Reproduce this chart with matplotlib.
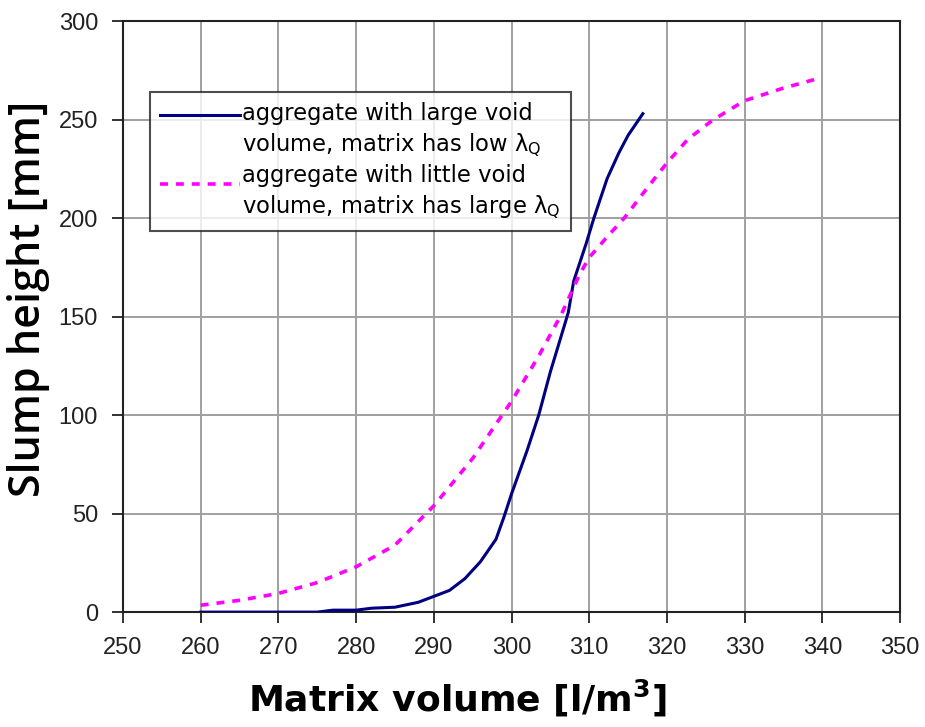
import matplotlib
matplotlib.use("Agg")
import matplotlib.pyplot as plt
from matplotlib.legend_handler import HandlerLine2D
import numpy as np

# ---- data ----
blue_x = [260, 265, 270, 275, 277, 280, 282, 285, 288, 290, 292, 294, 296, 298, 299, 300,
          302, 303.5, 305, 306, 307.3, 308, 309.6, 310.6, 312.3, 313.8, 315, 316.9]
blue_y = [0, 0, 0, 0, 1, 1, 2, 2.5, 5, 8, 11, 17, 25.6, 37, 48, 60,
          82, 100, 122, 135, 152, 168, 187, 200, 220, 233, 242, 253]

mag_x = [260, 265, 270, 275, 280, 285, 290, 295, 296.2, 300, 303.5, 306.4, 308.7, 310,
         312.2, 314.5, 317.6, 320, 322.7, 325.8, 330, 335, 339.6]
mag_y = [3.5, 6, 9.5, 15, 23, 34, 54, 78, 85, 107, 130, 151, 171, 180,
         190, 200, 216, 228, 240, 249.5, 259.6, 266, 271]

xticks = list(range(250, 351, 10))
yticks = list(range(0, 301, 50))

label_blue = "aggregate with large void\nvolume, matrix has low λ$_\\mathregular{Q}$"
label_mag = "aggregate with little void\nvolume, matrix has large λ$_\\mathregular{Q}$"


class UpHandler(HandlerLine2D):
    def __init__(self, shift, **kw):
        super().__init__(**kw)
        self.shift = shift

    def create_artists(self, legend, orig_handle, xdescent, ydescent, width, height,
                       fontsize, trans):
        arts = super().create_artists(legend, orig_handle, xdescent, ydescent, width,
                                      height, fontsize, trans)
        for a in arts:
            y = np.asarray(a.get_ydata(), dtype=float)
            a.set_ydata(y + self.shift)
        return arts


fig = plt.figure(figsize=(9.25, 7.27), dpi=100)
ax = fig.add_axes([0.133, 0.158, 0.840, 0.813])

l1, = ax.plot(blue_x, blue_y, color='#000080', lw=2.2, label=label_blue, zorder=3)
l2, = ax.plot(mag_x, mag_y, color='#FF00FF', lw=2.6, ls=(0, (2.2, 2.2)), label=label_mag, zorder=3)

ax.set_xlim(250, 350)
ax.set_ylim(0, 300)
ax.set_xticks(xticks)
ax.set_yticks(yticks)
ax.grid(True, color='#a0a0a0', lw=1.4)
ax.set_axisbelow(True)
for s in ax.spines.values():
    s.set_linewidth(1.5)
    s.set_color('#222222')
ax.tick_params(direction='out', length=8, width=1.3, labelsize=17, colors='#222222')
ax.tick_params(axis='x', pad=10)
ax.tick_params(axis='y', pad=10)
for lab in ax.get_xticklabels() + ax.get_yticklabels():
    lab.set_family(['Liberation Sans', 'DejaVu Sans'])

ax.set_xlabel("Matrix volume [l/m$^\\mathregular{3}$]", fontsize=26, fontweight='bold',
              family=['DejaVu Sans'])
ax.xaxis.set_label_coords(0.43, -0.112)
ax.set_ylabel("Slump height [mm]", fontsize=31, fontweight='semibold',
              family=['Open Sans', 'DejaVu Sans'])
ax.yaxis.set_label_coords(-0.094, 0.53)

leg = ax.legend(handles=[l1, l2], loc='upper left', bbox_to_anchor=(0.035, 0.880),
                borderaxespad=0, frameon=True, fancybox=False, handlelength=3.5,
                handletextpad=0.1, borderpad=0.45, labelspacing=0.25,
                prop={'family': 'DejaVu Sans', 'size': 16.3},
                handler_map={l1: UpHandler(12), l2: UpHandler(7)})
leg.get_frame().set_edgecolor('#222222')
leg.get_frame().set_linewidth(1.5)
for t in leg.get_texts():
    t.set_linespacing(1.28)

fig.savefig('out.png', dpi=100)
